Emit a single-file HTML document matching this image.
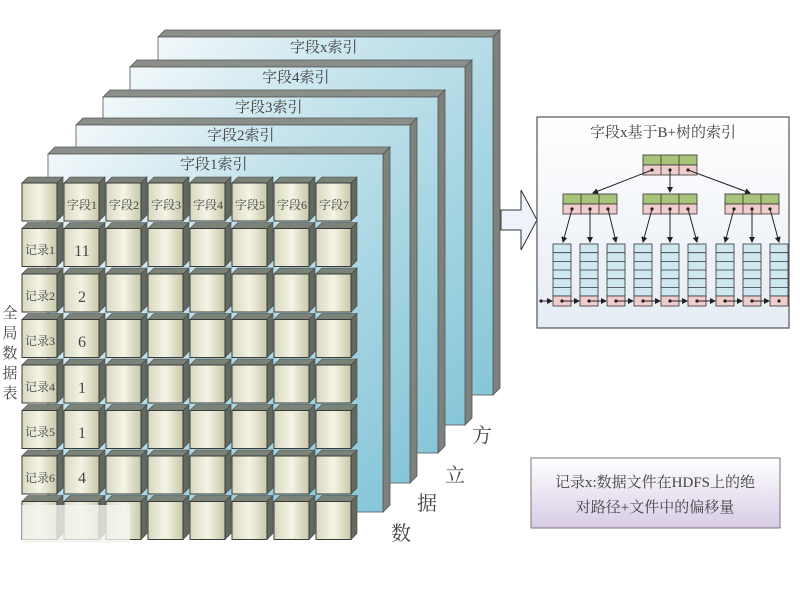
<!DOCTYPE html>
<html><head><meta charset="utf-8"><style>
body{margin:0;background:#fff}
svg{display:block}
text{font-family:"Liberation Serif","Noto Serif CJK SC",serif;fill:#444}
</style></head><body>
<svg width="800" height="600" viewBox="0 0 800 600" xmlns="http://www.w3.org/2000/svg">
<defs>
<linearGradient id="face" x1="0" y1="0" x2="1" y2="1">
<stop offset="0" stop-color="#f2f8fa"/><stop offset="0.35" stop-color="#c4e3ec"/><stop offset="1" stop-color="#86c6d8"/>
</linearGradient>
<linearGradient id="cf" x1="0" y1="0" x2="1" y2="0">
<stop offset="0" stop-color="#d8d8c0"/><stop offset="0.5" stop-color="#f4f4e6"/><stop offset="1" stop-color="#c8c8aa"/>
</linearGradient>
<linearGradient id="pan" x1="0" y1="0" x2="0" y2="1">
<stop offset="0" stop-color="#ffffff"/><stop offset="1" stop-color="#e6ecf4"/>
</linearGradient>
<linearGradient id="note" x1="0" y1="0" x2="0" y2="1">
<stop offset="0" stop-color="#ffffff"/><stop offset="1" stop-color="#d8cce6"/>
</linearGradient>
<g id="cube">
<polygon points="0,7 6,1 41,1 35,7" fill="#7b8378" stroke="#444" stroke-width="0.6"/>
<polygon points="35,7 41,1 41,39 35,45" fill="#626a60" stroke="#444" stroke-width="0.6"/>
<rect x="0" y="7" width="35" height="38" fill="url(#cf)" stroke="#3a3a3a" stroke-width="1"/>
</g>
<g id="slabdummy"></g>
<g id="leaf">
<rect x="0" y="0" width="18" height="52" fill="#cfe8ef" stroke="#333" stroke-width="0.8"/>
<line x1="0" y1="8.7" x2="18" y2="8.7" stroke="#333" stroke-width="0.8"/>
<line x1="0" y1="17.4" x2="18" y2="17.4" stroke="#333" stroke-width="0.8"/>
<line x1="0" y1="26" x2="18" y2="26" stroke="#333" stroke-width="0.8"/>
<line x1="0" y1="34.7" x2="18" y2="34.7" stroke="#333" stroke-width="0.8"/>
<line x1="0" y1="43.4" x2="18" y2="43.4" stroke="#333" stroke-width="0.8"/>
<rect x="0" y="52" width="18" height="10" fill="#f0cccc" stroke="#333" stroke-width="0.8"/>
<circle cx="9" cy="57" r="1.6" fill="#222"/>
</g>
<g id="node">
<rect x="0" y="0" width="54" height="10" fill="#a8c37a" stroke="#333" stroke-width="0.8"/>
<rect x="0" y="10" width="54" height="10" fill="#f0cccc" stroke="#333" stroke-width="0.8"/>
<line x1="18" y1="0" x2="18" y2="20" stroke="#333" stroke-width="0.8"/>
<line x1="36" y1="0" x2="36" y2="20" stroke="#333" stroke-width="0.8"/>
<circle cx="9" cy="15" r="1.6" fill="#222"/><circle cx="27" cy="15" r="1.6" fill="#222"/><circle cx="45" cy="15" r="1.6" fill="#222"/>
</g>
<marker id="ah" markerWidth="6" markerHeight="6" refX="5" refY="3" orient="auto"><path d="M0,0 L6,3 L0,6 z" fill="#222"/></marker>
</defs>

<!-- slabs back to front -->
<g stroke="#555" stroke-width="0.8">
<polygon points="158,37 165,30 500,30 493,37" fill="#8a8f8a"/>
<polygon points="493,37 500,30 500,388 493,395" fill="#7d827d"/>
<rect x="158" y="37" width="335" height="358" fill="url(#face)"/>
<polygon points="130,67 137,60 472,60 465,67" fill="#8a8f8a"/>
<polygon points="465,67 472,60 472,418 465,425" fill="#7d827d"/>
<rect x="130" y="67" width="335" height="358" fill="url(#face)"/>
<polygon points="103,97 110,90 445,90 438,97" fill="#8a8f8a"/>
<polygon points="438,97 445,90 445,446 438,453" fill="#7d827d"/>
<rect x="103" y="97" width="335" height="356" fill="url(#face)"/>
<polygon points="76,125 83,118 417,118 410,125" fill="#8a8f8a"/>
<polygon points="410,125 417,118 417,476 410,483" fill="#7d827d"/>
<rect x="76" y="125" width="334" height="358" fill="url(#face)"/>
<polygon points="48,154 55,147 390,147 383,154" fill="#8a8f8a"/>
<polygon points="383,154 390,147 390,505 383,512" fill="#7d827d"/>
<rect x="48" y="154" width="335" height="358" fill="url(#face)"/>
</g>
<g font-size="15">
<text x="290" y="52">字段x索引</text>
<text x="262" y="82">字段4索引</text>
<text x="235" y="112">字段3索引</text>
<text x="207" y="140">字段2索引</text>
<text x="180" y="169">字段1索引</text>
</g>

<!-- grid -->
<g>
<use href="#cube" x="22" y="176"/><use href="#cube" x="64" y="176"/><use href="#cube" x="106" y="176"/><use href="#cube" x="148" y="176"/><use href="#cube" x="190" y="176"/><use href="#cube" x="232" y="176"/><use href="#cube" x="274" y="176"/><use href="#cube" x="316" y="176"/>
<use href="#cube" x="22" y="221.5"/><use href="#cube" x="64" y="221.5"/><use href="#cube" x="106" y="221.5"/><use href="#cube" x="148" y="221.5"/><use href="#cube" x="190" y="221.5"/><use href="#cube" x="232" y="221.5"/><use href="#cube" x="274" y="221.5"/><use href="#cube" x="316" y="221.5"/>
<use href="#cube" x="22" y="267"/><use href="#cube" x="64" y="267"/><use href="#cube" x="106" y="267"/><use href="#cube" x="148" y="267"/><use href="#cube" x="190" y="267"/><use href="#cube" x="232" y="267"/><use href="#cube" x="274" y="267"/><use href="#cube" x="316" y="267"/>
<use href="#cube" x="22" y="312.5"/><use href="#cube" x="64" y="312.5"/><use href="#cube" x="106" y="312.5"/><use href="#cube" x="148" y="312.5"/><use href="#cube" x="190" y="312.5"/><use href="#cube" x="232" y="312.5"/><use href="#cube" x="274" y="312.5"/><use href="#cube" x="316" y="312.5"/>
<use href="#cube" x="22" y="358"/><use href="#cube" x="64" y="358"/><use href="#cube" x="106" y="358"/><use href="#cube" x="148" y="358"/><use href="#cube" x="190" y="358"/><use href="#cube" x="232" y="358"/><use href="#cube" x="274" y="358"/><use href="#cube" x="316" y="358"/>
<use href="#cube" x="22" y="403.5"/><use href="#cube" x="64" y="403.5"/><use href="#cube" x="106" y="403.5"/><use href="#cube" x="148" y="403.5"/><use href="#cube" x="190" y="403.5"/><use href="#cube" x="232" y="403.5"/><use href="#cube" x="274" y="403.5"/><use href="#cube" x="316" y="403.5"/>
<use href="#cube" x="22" y="449"/><use href="#cube" x="64" y="449"/><use href="#cube" x="106" y="449"/><use href="#cube" x="148" y="449"/><use href="#cube" x="190" y="449"/><use href="#cube" x="232" y="449"/><use href="#cube" x="274" y="449"/><use href="#cube" x="316" y="449"/>
<use href="#cube" x="22" y="494.5"/><use href="#cube" x="64" y="494.5"/><use href="#cube" x="106" y="494.5"/><use href="#cube" x="148" y="494.5"/><use href="#cube" x="190" y="494.5"/><use href="#cube" x="232" y="494.5"/><use href="#cube" x="274" y="494.5"/><use href="#cube" x="316" y="494.5"/>
</g>
<g font-size="12" text-anchor="middle" fill="#555">
<text x="82" y="209">字段1</text><text x="124" y="209">字段2</text><text x="166" y="209">字段3</text><text x="208" y="209">字段4</text><text x="250" y="209">字段5</text><text x="292" y="209">字段6</text><text x="334" y="209">字段7</text>
<text x="40" y="254">记录1</text><text x="40" y="300">记录2</text><text x="40" y="345">记录3</text><text x="40" y="391">记录4</text><text x="40" y="436">记录5</text><text x="40" y="482">记录6</text>
</g>
<g font-size="16" text-anchor="middle">
<text x="82" y="256">11</text><text x="82" y="302">2</text><text x="82" y="347">6</text><text x="82" y="393">1</text><text x="82" y="438">1</text><text x="82" y="483">4</text>
</g>
<rect x="22" y="505" width="108" height="38" fill="#f4f4ee" opacity="0.8"/>
<g font-size="15" text-anchor="middle">
<text x="10" y="318">全</text><text x="10" y="338">局</text><text x="10" y="358">数</text><text x="10" y="378">据</text><text x="10" y="398">表</text>
</g>
<g font-size="20">
<text x="472" y="442">方</text><text x="445" y="482">立</text><text x="417" y="510">据</text><text x="391" y="540">数</text>
</g>

<!-- arrow -->
<polygon points="501,210 521,210 521,190 537,220 521,250 521,230 501,230" fill="#eef2fa" stroke="#333" stroke-width="1"/>

<!-- panel -->
<rect x="537" y="117" width="252" height="211" fill="url(#pan)" stroke="#555" stroke-width="1.2"/>
<text x="663" y="137" font-size="15" text-anchor="middle">字段x基于B+树的索引</text>
<use href="#node" x="643" y="155"/>
<use href="#node" x="563" y="194"/><use href="#node" x="643" y="194"/><use href="#node" x="725" y="194"/>
<g stroke="#222" stroke-width="1" marker-end="url(#ah)">
<line x1="652" y1="170" x2="593" y2="193"/>
<line x1="670" y1="170" x2="670" y2="192"/>
<line x1="688" y1="170" x2="750" y2="193"/>
<line x1="572" y1="209" x2="563" y2="242"/>
<line x1="590" y1="209" x2="590" y2="242"/>
<line x1="608" y1="209" x2="616" y2="242"/>
<line x1="652" y1="209" x2="643" y2="242"/>
<line x1="670" y1="209" x2="670" y2="242"/>
<line x1="688" y1="209" x2="697" y2="242"/>
<line x1="734" y1="209" x2="725" y2="242"/>
<line x1="752" y1="209" x2="752" y2="242"/>
<line x1="770" y1="209" x2="779" y2="242"/>
</g>
<use href="#leaf" x="553" y="244"/><use href="#leaf" x="580" y="244"/><use href="#leaf" x="607" y="244"/><use href="#leaf" x="634" y="244"/><use href="#leaf" x="661" y="244"/><use href="#leaf" x="688" y="244"/><use href="#leaf" x="716" y="244"/><use href="#leaf" x="743" y="244"/><use href="#leaf" x="770" y="244"/>
<g stroke="#222" stroke-width="1" marker-end="url(#ah)">
<line x1="541" y1="301" x2="552" y2="301"/>
<line x1="562" y1="301" x2="579" y2="301"/>
<line x1="589" y1="301" x2="606" y2="301"/>
<line x1="616" y1="301" x2="633" y2="301"/>
<line x1="643" y1="301" x2="660" y2="301"/>
<line x1="670" y1="301" x2="687" y2="301"/>
<line x1="697" y1="301" x2="715" y2="301"/>
<line x1="725" y1="301" x2="742" y2="301"/>
<line x1="752" y1="301" x2="769" y2="301"/>
</g>
<circle cx="541" cy="301" r="1.6" fill="#222"/>

<!-- note -->
<rect x="531" y="458" width="249" height="70" fill="url(#note)" stroke="#777" stroke-width="1"/>
<text x="655" y="487" font-size="15" text-anchor="middle">记录x:数据文件在HDFS上的绝</text>
<text x="655" y="512" font-size="15" text-anchor="middle">对路径+文件中的偏移量</text>
</svg>
</body></html>
